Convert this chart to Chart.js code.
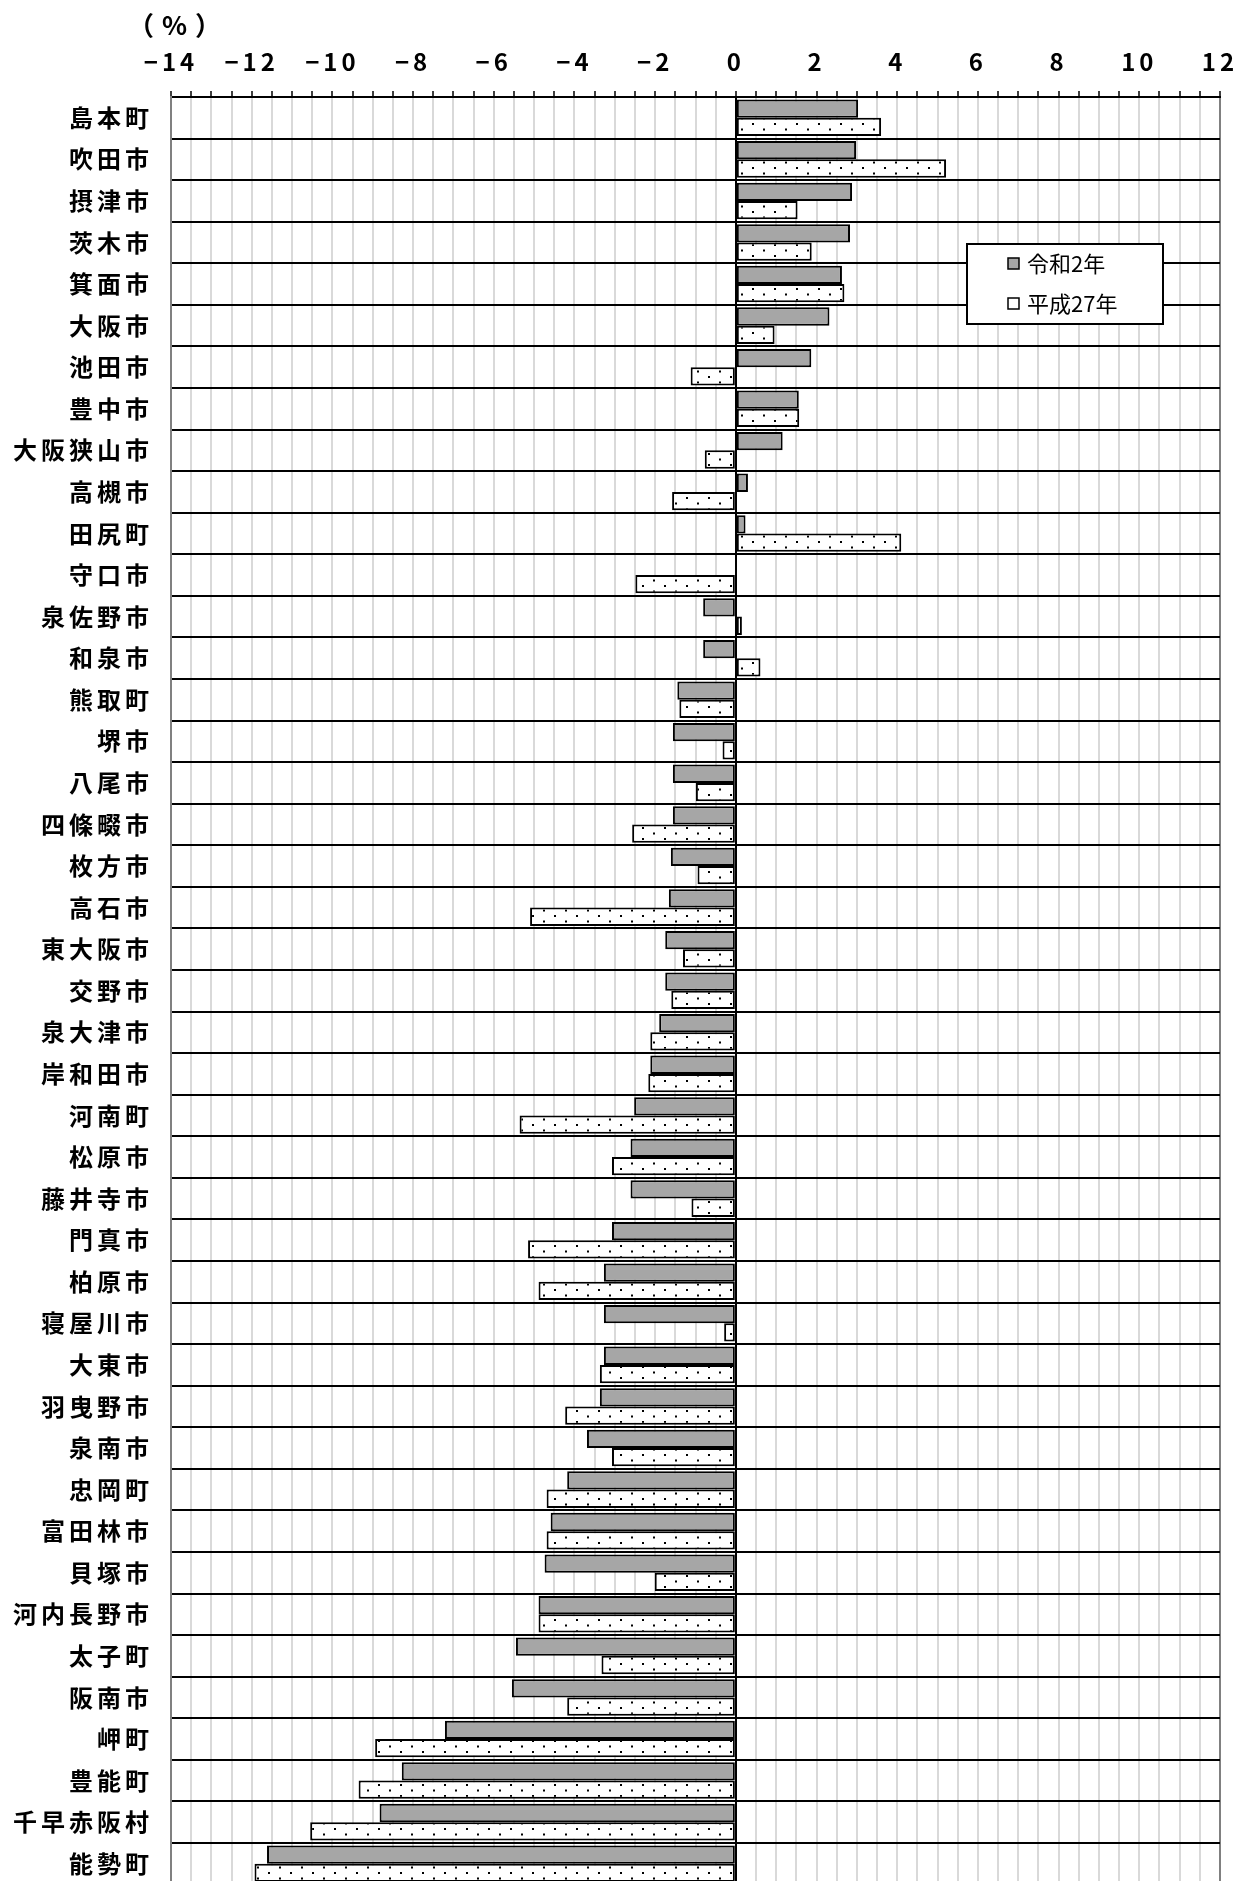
<!DOCTYPE html>
<html lang="ja">
<head>
<meta charset="utf-8">
<title>人口増減率</title>
<script src="https://cdn.jsdelivr.net/npm/chart.js@4.4.1/dist/chart.umd.min.js"></script>
<style>
  html, body { margin: 0; padding: 0; background: #fff; overflow: hidden; }
  #wrap { width: 1255px; height: 1890px; }
</style>
</head>
<body>
<div id="wrap"><canvas id="grafico" width="1255" height="1890"></canvas></div>
<script>
// 市町村（上から順）
const municipios = [
  '島本町', '吹田市', '摂津市', '茨木市', '箕面市', '大阪市', '池田市', '豊中市',
  '大阪狭山市', '高槻市', '田尻町', '守口市', '泉佐野市', '和泉市', '熊取町', '堺市',
  '八尾市', '四條畷市', '枚方市', '高石市', '東大阪市', '交野市', '泉大津市', '岸和田市',
  '河南町', '松原市', '藤井寺市', '門真市', '柏原市', '寝屋川市', '大東市', '羽曳野市',
  '泉南市', '忠岡町', '富田林市', '貝塚市', '河内長野市', '太子町', '阪南市', '岬町',
  '豊能町', '千早赤阪村', '能勢町'
];

// 令和2年 (%)
const reiwa2 = [
  3.03, 2.98, 2.88, 2.83, 2.63, 2.32, 1.87, 1.56,
  1.16, 0.30, 0.24, 0.03, -0.81, -0.81, -1.45, -1.56,
  -1.56, -1.56, -1.61, -1.66, -1.75, -1.75, -1.90, -2.12,
  -2.52, -2.61, -2.61, -3.07, -3.27, -3.27, -3.27, -3.37,
  -3.69, -4.18, -4.59, -4.74, -4.89, -5.45, -5.55, -7.21,
  -8.28, -8.83, -11.62
];

// 平成27年 (%)
const heisei27 = [
  3.60, 5.21, 1.53, 1.88, 2.69, 0.96, -1.12, 1.57,
  -0.77, -1.58, 4.10, -2.49, 0.15, 0.61, -1.40, -0.33,
  -0.99, -2.57, -0.95, -5.10, -1.31, -1.60, -2.12, -2.17,
  -5.36, -3.07, -1.10, -5.15, -4.89, -0.29, -3.37, -4.23,
  -3.07, -4.69, -4.69, -2.01, -4.89, -3.33, -4.18, -8.94,
  -9.35, -10.55, -11.93
];

const series = ['令和2年', '平成27年'];
const ejeMin = -14, ejeMax = 12, pasoMenor = 0.5, pasoEtiqueta = 2;

const fuente = '"Noto Sans CJK JP", "Noto Sans", sans-serif';

// trama de puntos para 平成27年
function crearTrama() {
  const c = document.createElement('canvas');
  c.width = 22; c.height = 11;
  const g = c.getContext('2d');
  g.fillStyle = '#fff';
  g.fillRect(0, 0, 22, 11);
  g.fillStyle = '#000';
  g.fillRect(4, 2, 2, 2);
  g.fillRect(15, 7.5, 2, 2);
  return g.createPattern(c, 'repeat');
}

const leyendaDentro = {
  id: 'leyendaDentro',
  beforeDraw(chart) {
    chart.ctx.letterSpacing = '4px';
  },
  afterDraw(chart) {
    const ctx = chart.ctx;
    ctx.save();
    // (%)
    ctx.letterSpacing = '8px';
    ctx.fillStyle = '#000';
    ctx.font = 'bold 26px ' + fuente;
    ctx.textBaseline = 'middle';
    ctx.textAlign = 'left';
    ctx.fillText('（%）', 128, 25);

    // caja de leyenda
    ctx.letterSpacing = '0px';
    const x = 967, y = 244, w = 196, h = 80;
    ctx.fillStyle = '#fff';
    ctx.fillRect(x, y, w, h);
    ctx.strokeStyle = '#000';
    ctx.lineWidth = 2;
    ctx.strokeRect(x, y, w, h);
    ctx.font = '22px ' + fuente;
    chart.data.datasets.forEach((ds, i) => {
      const cy = y + 20 + i * 40;
      ctx.fillStyle = i === 0 ? ds.backgroundColor : '#fff';
      ctx.fillRect(1008, cy - 6, 11, 11);
      ctx.lineWidth = 1.5;
      ctx.strokeRect(1008, cy - 6, 11, 11);
      ctx.fillStyle = '#000';
      ctx.fillText(ds.label, 1027, cy);
    });
    ctx.restore();
  }
};

const lienzo = document.getElementById('grafico').getContext('2d');
const grafico = new Chart(lienzo, {
  type: 'bar',
  data: {
    labels: municipios,
    datasets: [
      {
        label: series[0],
        data: reiwa2,
        backgroundColor: '#a6a6a6',
        borderColor: '#000',
        borderWidth: 2,
        borderSkipped: false
      },
      {
        label: series[1],
        data: heisei27,
        backgroundColor: crearTrama(),
        borderColor: '#000',
        borderWidth: 2,
        borderSkipped: false
      }
    ]
  },
  options: {
    indexAxis: 'y',
    responsive: false,
    animation: false,
    devicePixelRatio: 1,
    categoryPercentage: 0.88,
    barPercentage: 1.0,
    layout: { padding: { left: 0, top: 0, right: 35, bottom: 5.5 } },
    plugins: {
      legend: { display: false },
      title: { display: false },
      tooltip: { enabled: false }
    },
    scales: {
      x: {
        position: 'top',
        min: ejeMin,
        max: ejeMax,
        afterFit: s => { s.height = 97; s.paddingLeft = 0; s.paddingRight = 0; },
        ticks: {
          stepSize: pasoMenor,
          maxTicksLimit: 200,
          autoSkip: false,
          maxRotation: 0,
          padding: 15,
          color: '#000',
          font: { family: fuente, size: 24, weight: 'bold' },
          callback: v => (v % pasoEtiqueta === 0 ? (v < 0 ? '−' + Math.abs(v) : String(v)) : '')
        },
        grid: {
          color: c => {
            const v = c.tick ? c.tick.value : null;
            if (v === 0) return '#000';
            if (v === ejeMin || v === ejeMax) return '#808080';
            return '#d9d9d9';
          },
          lineWidth: 2,
          tickColor: '#000',
          tickLength: 6,
          tickWidth: 1.5
        },
        border: { display: true, color: '#000', width: 2 }
      },
      y: {
        afterFit: s => { s.width = 171; s.paddingTop = 0; s.paddingBottom = 0; },
        ticks: {
          autoSkip: false,
          padding: 18,
          color: '#000',
          font: { family: fuente, size: 24, weight: 'bold' }
        },
        grid: {
          color: '#000',
          lineWidth: 2,
          drawTicks: false,
          offset: true
        },
        border: { display: true, color: '#808080', width: 2 }
      }
    }
  },
  plugins: [leyendaDentro]
});
</script>
</body>
</html>
